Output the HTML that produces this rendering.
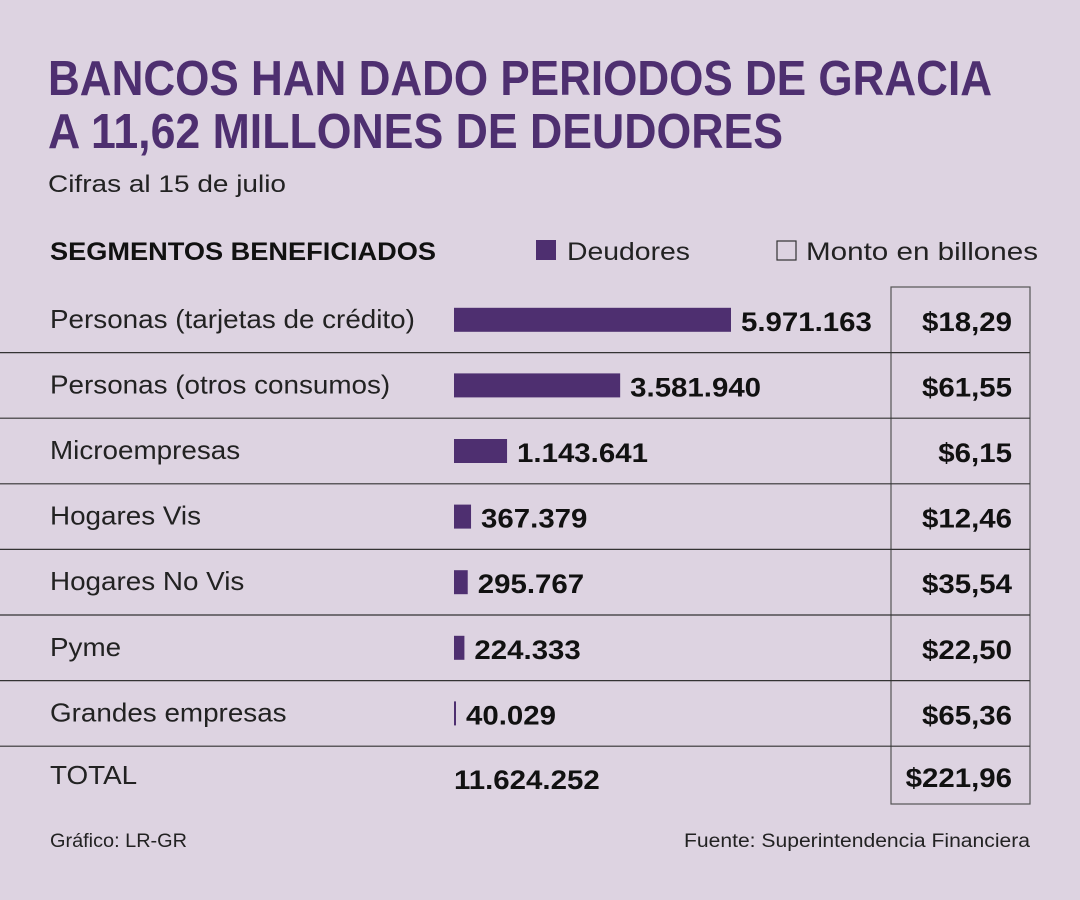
<!DOCTYPE html>
<html><head><meta charset="utf-8"><style>
html,body{margin:0;padding:0;background:#ddd3e1;}
svg{display:block;font-family:"Liberation Sans",sans-serif;}
</style></head><body>
<svg id="c" width="1080" height="900" viewBox="0 0 1080 900">
<rect x="0" y="0" width="1080" height="900" fill="#ddd3e1"/>
<text x="48" y="95" font-size="49" font-weight="bold" fill="#4e2f70" textLength="944" lengthAdjust="spacingAndGlyphs">BANCOS HAN DADO PERIODOS DE GRACIA</text>
<text x="48" y="148" font-size="49" font-weight="bold" fill="#4e2f70" textLength="735" lengthAdjust="spacingAndGlyphs">A 11,62 MILLONES DE DEUDORES</text>
<text x="48" y="192" font-size="24" fill="#222" textLength="238" lengthAdjust="spacingAndGlyphs">Cifras al 15 de julio</text>
<text x="50" y="260" font-size="25" font-weight="bold" fill="#111" textLength="386" lengthAdjust="spacingAndGlyphs">SEGMENTOS BENEFICIADOS</text>
<rect x="536" y="240" width="20" height="20" fill="#4e2f70"/>
<text x="567" y="260" font-size="25" fill="#222" textLength="123" lengthAdjust="spacingAndGlyphs">Deudores</text>
<rect x="777" y="241" width="19" height="19" fill="none" stroke="#333" stroke-width="1.2"/>
<text x="806" y="260" font-size="25" fill="#222" textLength="232" lengthAdjust="spacingAndGlyphs">Monto en billones</text>
<rect x="891" y="287" width="139" height="517" fill="none" stroke="#555" stroke-width="1.2"/>
<g id="rows"></g>
<text x="50" y="847" font-size="19" fill="#222" textLength="137" lengthAdjust="spacingAndGlyphs">Gráfico: LR-GR</text>
<text x="1030" y="847" font-size="19" fill="#222" text-anchor="end" textLength="346" lengthAdjust="spacingAndGlyphs">Fuente: Superintendencia Financiera</text>
</svg>
<script>
const categories = ["Personas (tarjetas de crédito)","Personas (otros consumos)","Microempresas","Hogares Vis","Hogares No Vis","Pyme","Grandes empresas"];
const deudores = [5971163,3581940,1143641,367379,295767,224333,40029];
const deudoresLabels = ["5.971.163","3.581.940","1.143.641","367.379","295.767","224.333","40.029"];
const montos = ["$18,29","$61,55","$6,15","$12,46","$35,54","$22,50","$65,36"];
const totalDeudores = "11.624.252";
const totalMonto = "$221,96";

const NS="http://www.w3.org/2000/svg";
const g=document.getElementById('rows');
const x0=454, pxPerUnit=277/5971163;
const xScale=v=>v*pxPerUnit;
const rowTop=287, rowH=65.6;
function mk(tag,attrs,txt){const e=document.createElementNS(NS,tag);for(const k in attrs)e.setAttribute(k,attrs[k]);if(txt!==undefined)e.textContent=txt;g.appendChild(e);return e;}
function stretch(e,f){const L=e.getComputedTextLength();e.setAttribute('textLength',(L*f).toFixed(1));e.setAttribute('lengthAdjust','spacingAndGlyphs');return L*f;}
for(let i=0;i<categories.length;i++){
  const top=rowTop+i*rowH, cy=top+rowH/2;
  const lab=mk('text',{x:50,y:cy+8,'font-size':26,fill:'#222'},categories[i]);
  
  
  stretch(lab,1.07);
  const w=Math.max(2,xScale(deudores[i]));
  const bar=mk('rect',{x:x0,y:cy-12,width:w,height:24,fill:'#4e2f70'});
  
  
  const vl=mk('text',{x:x0+w+10,y:cy+11,'font-size':27,'font-weight':'bold',fill:'#111'},deudoresLabels[i]);
  
  
  stretch(vl,1.09);
  const ml=mk('text',{x:1012,y:cy+11,'font-size':27,'font-weight':'bold',fill:'#111','text-anchor':'end'},montos[i]);
  
  
  stretch(ml,1.09);
  const ln=mk('line',{x1:0,x2:1030,y1:top+rowH,y2:top+rowH,stroke:'#333','stroke-width':1.2});
  
  
}
const ty=rowTop+7*rowH+30;
const tl=mk('text',{x:50,y:ty+8,'font-size':26,fill:'#222'},"TOTAL");


stretch(tl,1.07);
const td=mk('text',{x:454,y:ty+13,'font-size':27,'font-weight':'bold',fill:'#111'},totalDeudores);


stretch(td,1.09);
const tm=mk('text',{x:1012,y:ty+11,'font-size':27,'font-weight':'bold',fill:'#111','text-anchor':'end'},totalMonto);


stretch(tm,1.09);
</script>
</body></html>
